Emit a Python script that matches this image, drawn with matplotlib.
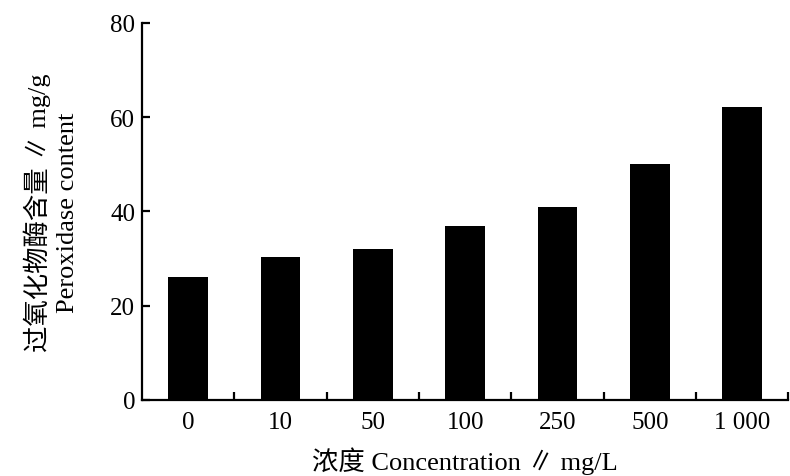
import matplotlib.pyplot as plt
import numpy as np

# 数据：浓度与过氧化物酶含量
categories = ['0', '10', '50', '100', '250', '500', '1 000']
peroxidase = [26.1, 30.2, 31.9, 36.9, 40.9, 50.0, 62.2]
y_ticks = [0, 20, 40, 60, 80]

serif = ['Liberation Serif', 'Noto Sans CJK SC', 'DejaVu Sans']
plt.rcParams['font.family'] = serif

fig = plt.figure(figsize=(7.9, 4.77), dpi=100)
ax = fig.add_axes([0.1797, 0.160, 0.8183, 0.7897])

x = np.arange(len(categories))
ax.bar(x, peroxidase, width=0.43, color='black')

ax.set_xlim(-0.5, len(categories) - 0.5)
ax.set_ylim(0, 80)
ax.set_yticks(y_ticks)
ax.set_xticks(x)
ax.set_xticklabels(categories)
ax.set_xticks(list(x[:-1] + 0.5) + [len(categories) - 0.5], minor=True)

for s in ['top', 'right']:
    ax.spines[s].set_visible(False)
for s in ['left', 'bottom']:
    ax.spines[s].set_linewidth(1.6)

ax.tick_params(axis='y', direction='in', length=6, width=1.6, labelsize=18, pad=5)
ax.tick_params(axis='x', which='major', length=0, labelsize=18, pad=8)
ax.tick_params(axis='x', which='minor', direction='in', length=6, width=1.6)

ax.set_xlabel('浓度 Concentration ∥ mg/L', fontsize=19, labelpad=10)
ax.set_ylabel('过氧化物酶含量 ∥ mg/g\nPeroxidase content', fontsize=19,
              labelpad=22, linespacing=1.4)

fig.savefig('out.png', dpi=100)
